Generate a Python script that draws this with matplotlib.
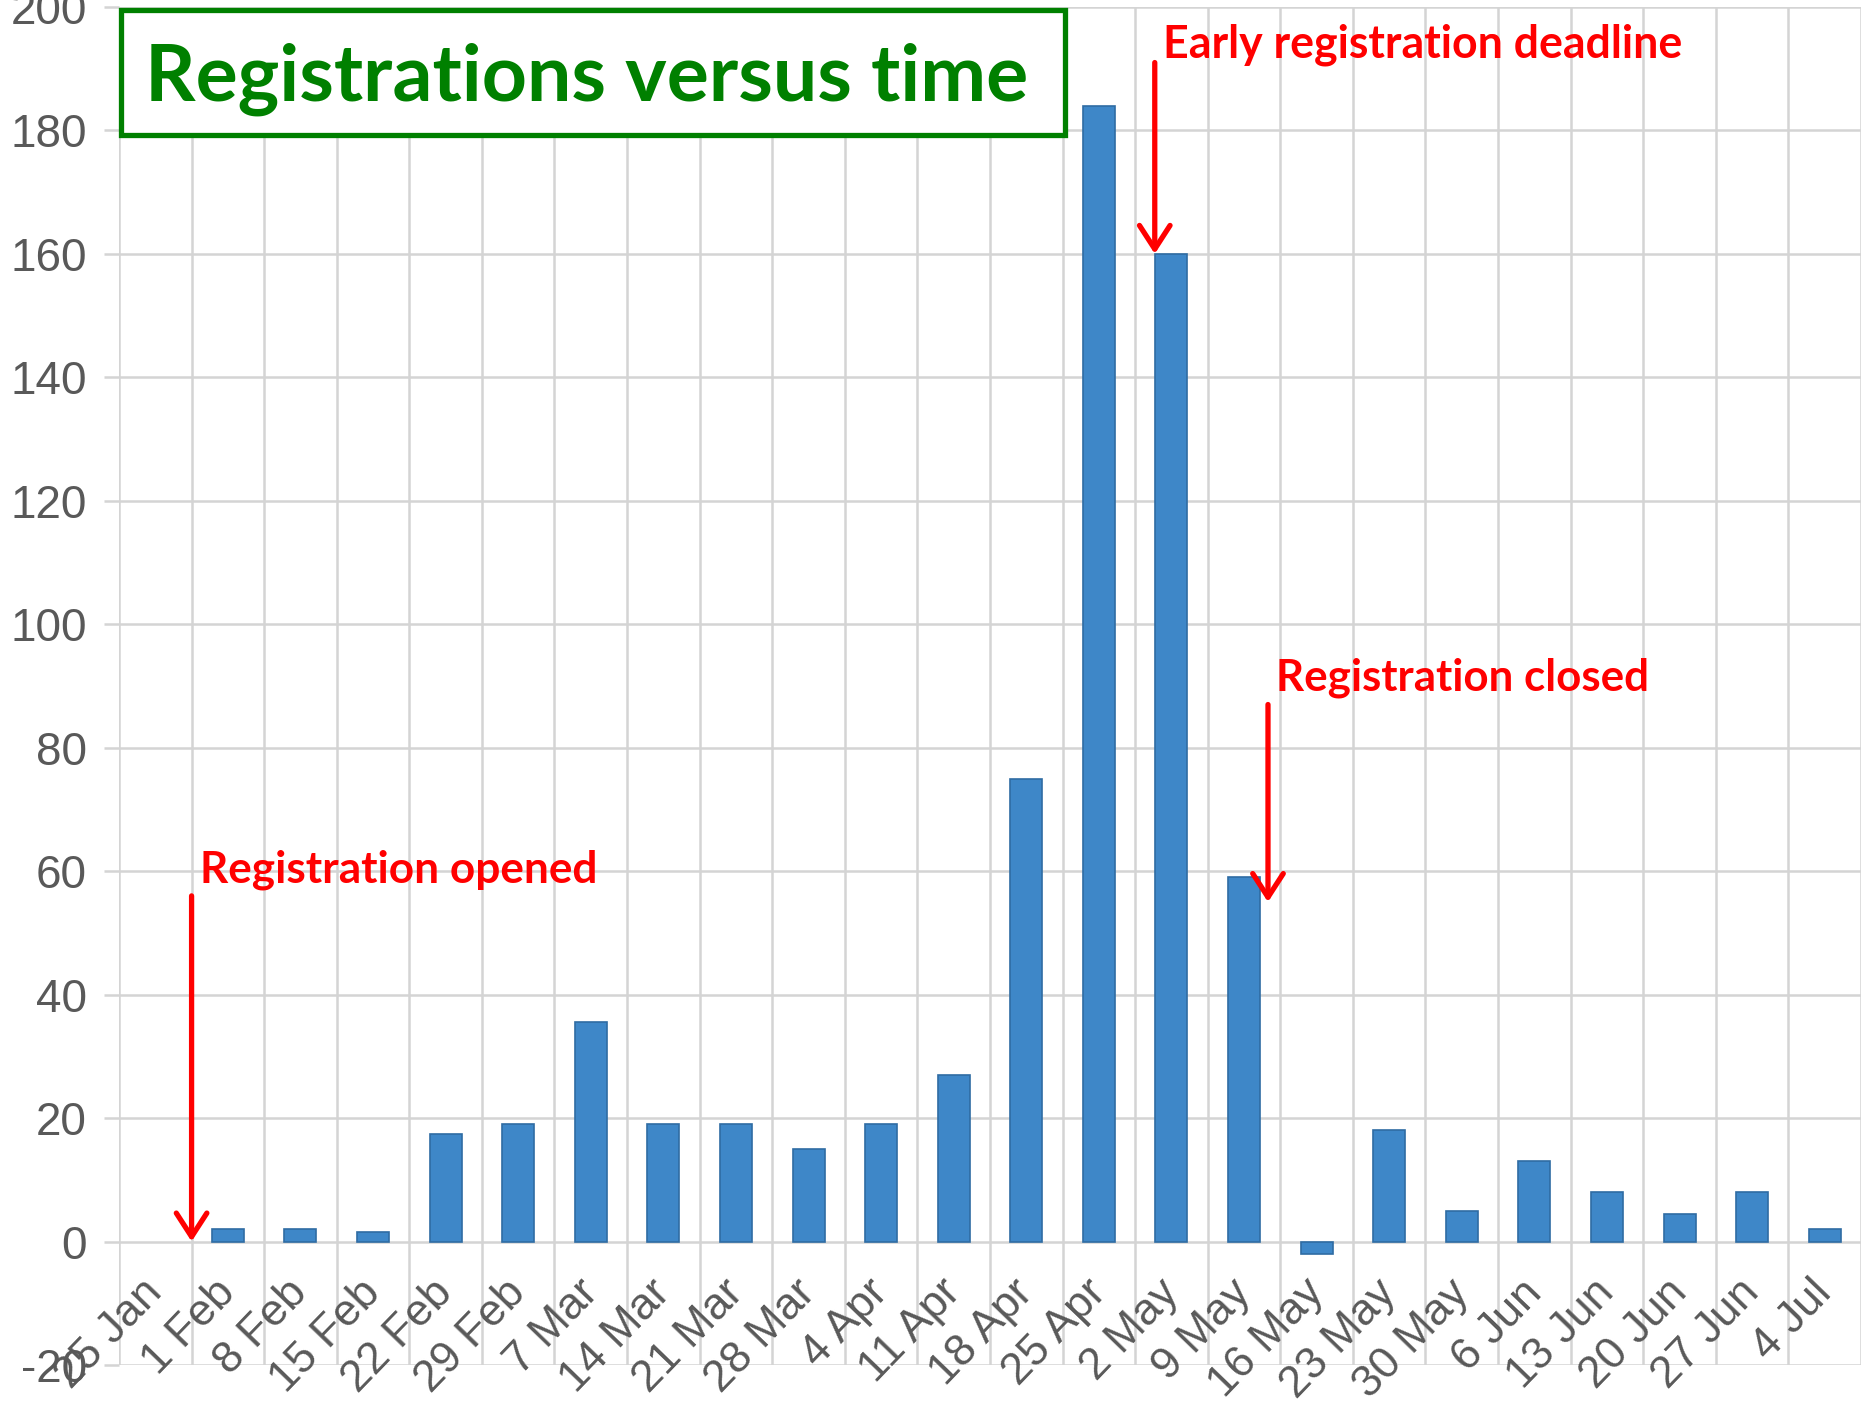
import matplotlib
matplotlib.use('Agg')
import matplotlib.pyplot as plt
from matplotlib.patches import Rectangle
from matplotlib import font_manager
import numpy as np

plt.rcParams['axes.unicode_minus'] = False

# ---------------- data ----------------
weeks = ['25 Jan', '1 Feb', '8 Feb', '15 Feb', '22 Feb', '29 Feb', '7 Mar', '14 Mar',
         '21 Mar', '28 Mar', '4 Apr', '11 Apr', '18 Apr', '25 Apr', '2 May', '9 May',
         '16 May', '23 May', '30 May', '6 Jun', '13 Jun', '20 Jun', '27 Jun', '4 Jul']
registrations = [0, 2, 2, 1.5, 17.5, 19, 35.5, 19, 19, 15, 19, 27, 75, 184, 160, 59,
                 -2, 18, 5, 13, 8, 4.5, 8, 2]
y_ticks = list(range(-20, 201, 20))
title = 'Registrations versus time'
notes = ['Early registration deadline', 'Registration closed', 'Registration opened']
# arrows: (x in category units, y start, y tip)
arrow_x = [13.77, 15.33, 0.5]
arrow_y0 = [191, 87, 56]
arrow_y1 = [160, 55, 0]

# ---------------- style ----------------
avail = {f.name for f in font_manager.fontManager.ttflist}
bold_font = 'Lato' if 'Lato' in avail else 'DejaVu Sans'
label_font = 'Liberation Sans' if 'Liberation Sans' in avail else 'DejaVu Sans'
grid_c = '#D4D4D4'
lab_c = '#595959'

W, H = 1865, 1404
fig = plt.figure(figsize=(W / 100, H / 100), dpi=100)
fig.patch.set_facecolor('white')


def fx(px):
    return px / W


def fy(py):
    return 1 - py / H


ax = fig.add_axes([fx(119), fy(1365), fx(1861) - fx(119), fy(7) - fy(1365)])
x = np.arange(len(weeks))
bars = ax.bar(x, registrations, width=0.44, color='#3E87C8', edgecolor='#2F6CA3',
              linewidth=1.2, zorder=3)
for b, v in zip(bars, registrations):
    if v == 0:
        b.set_visible(False)
ax.set_xlim(-0.5, len(weeks) - 0.5)
ax.set_ylim(-20, 200)
ax.set_yticks(y_ticks)
ax.set_xticks([])
ax.set_xticks(np.arange(-0.5, len(weeks)), minor=True)
ax.grid(which='minor', axis='x', color=grid_c, lw=1.8, zorder=0)
ax.grid(which='major', axis='y', color=grid_c, lw=1.8, zorder=0)
ax.set_axisbelow(True)
ax.tick_params(axis='x', which='both', length=0, labelbottom=False)
ax.tick_params(axis='y', length=11, width=1.8, color=grid_c, pad=12,
               labelsize=33, labelcolor=lab_c)
for lbl in ax.get_yticklabels():
    lbl.set_family(label_font)
for s in ax.spines.values():
    s.set_visible(False)

for i, lab in enumerate(weeks):
    ax.annotate(lab, xy=(i, 0), xytext=(11, -22), textcoords='offset points',
                rotation=46, ha='right', va='top', fontsize=32, color=lab_c,
                family=label_font, annotation_clip=False, zorder=4)

# arrows
for ax_x, y0, y1 in zip(arrow_x, arrow_y0, arrow_y1):
    ax.annotate('', xy=(ax_x, y1), xytext=(ax_x, y0),
                arrowprops=dict(arrowstyle='->,head_length=17,head_width=11',
                                lw=3.8, color='#FF0000', mutation_scale=1,
                                shrinkA=0, shrinkB=0),
                annotation_clip=False, zorder=6)

# title box
fig.add_artist(Rectangle((fx(121), fy(135)), fx(1065) - fx(121), fy(10) - fy(135),
                         transform=fig.transFigure, facecolor='white',
                         edgecolor='#008000', lw=3.8, zorder=5))
renderer = fig.canvas.get_renderer()


def fitted(xp, yp, txt, width_px, color, ha='left'):
    t = fig.text(fx(xp), fy(yp), txt, ha=ha, va='baseline', color=color,
                 fontweight='bold', family=bold_font, fontsize=40, zorder=7)
    w = t.get_window_extent(renderer).width
    t.set_fontsize(40 * width_px / w)
    return t


fitted(145, 101, title, 883, '#008000')
fitted(1163, 58, notes[0], 519, '#FF0000')
fitted(1276, 690, notes[1], 373, '#FF0000')
fitted(200, 882, notes[2], 397, '#FF0000')

fig.savefig('out.png', dpi=100, facecolor='white')
